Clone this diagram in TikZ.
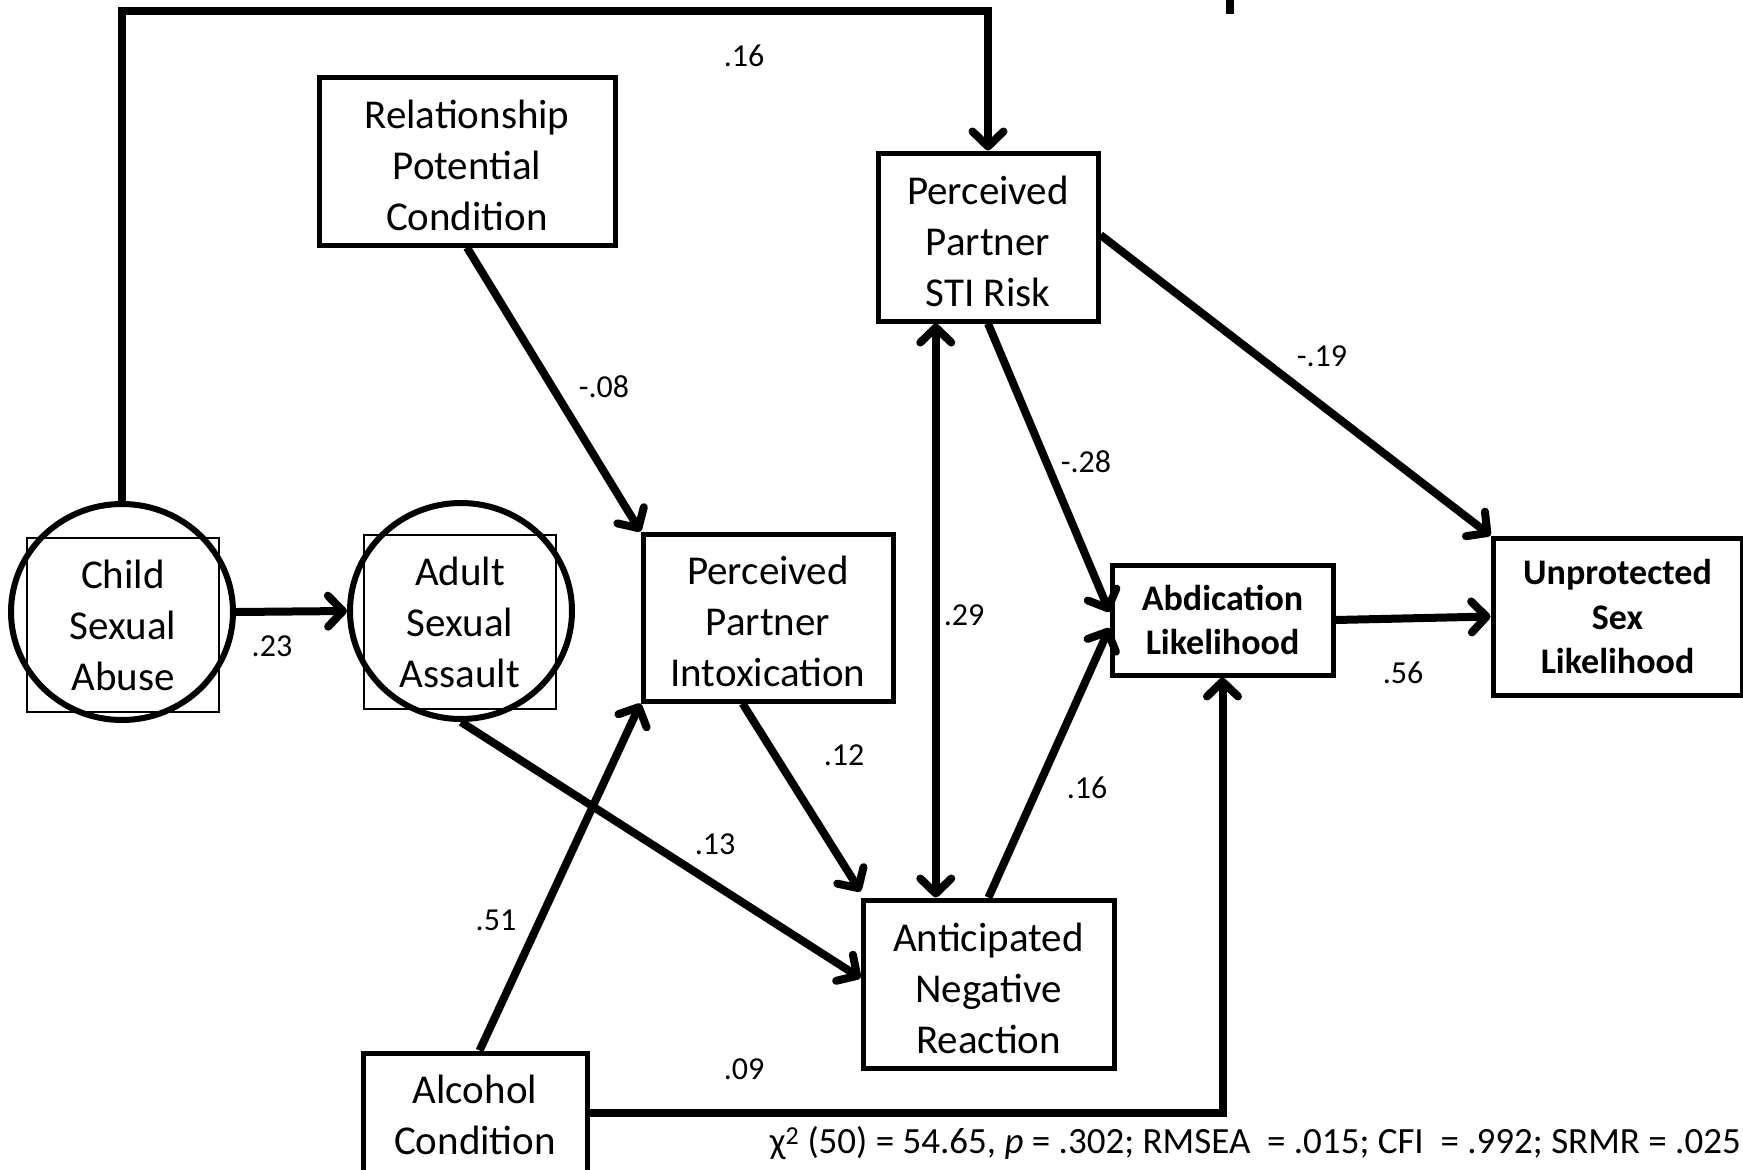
\documentclass[tikz,border=0pt]{standalone}
\usepackage{fontspec}
\setmainfont{Carlito}
\usetikzlibrary{arrows.meta,calc,shapes.geometric}
\newcommand\nodefnt{\fontsize{41}{51}\selectfont}
\newcommand\boldfnt{\fontsize{36}{44.5}\selectfont\bfseries}
\newcommand\labfnt{\fontsize{32}{38}\selectfont}
\newcommand\fitfnt{\fontsize{37}{42}\selectfont}
% taller first line, so that the text block sits a little lower in its box
\newcommand\tup{\rule{0pt}{37pt}}
\begin{document}
\begin{tikzpicture}[x=1pt,y=-1pt,
  box/.style={draw, line width=5pt, inner sep=0pt, align=center, font=\nodefnt},
  boldbox/.style={box, font=\boldfnt},
  latent/.style={ellipse, draw, line width=6pt, minimum width=222pt, minimum height=216pt, inner sep=0pt},
  indic/.style={draw, line width=2pt, inner sep=0pt, minimum width=192pt, minimum height=174pt, align=center, font=\nodefnt},
  lab/.style={inner sep=0pt, font=\labfnt},
  tipb/.tip={Straight Barb[length=15pt,width=31pt,line cap=round,line join=round]},
  conn/.style={line width=8pt},
  arr/.style={conn, -tipb},
  biarr/.style={conn, tipb-tipb}]
\useasboundingbox (0,0) rectangle (1743,1170);

% observed and latent variables
\node[box, minimum width=296pt, minimum height=168pt] (rel) at (467,161) {\tup Relationship\\Potential\\Condition};
\node[box, minimum width=220pt, minimum height=168pt] (sti) at (988,237) {\tup Perceived\\Partner\\STI Risk};
\node[latent] (csa) at (122,612) {};
\node[indic] (csasq) at (123,625) {Child\\Sexual\\Abuse};
\node[latent] (asa) at (461,611) {};
\node[indic] (asasq) at (460,622) {Adult\\Sexual\\Assault};
\node[box, minimum width=250pt, minimum height=167pt] (ppi) at (768,617.5) {\tup Perceived\\Partner\\Intoxication};
\node[boldbox, minimum width=221pt, minimum height=110pt] (abd) at (1222.5,620) {Abdication\\Likelihood};
\node[boldbox, minimum width=249pt, minimum height=157pt] (unp) at (1617.5,616.5) {Unprotected\\Sex\\Likelihood};
\node[box, minimum width=251pt, minimum height=168pt] (anr) at (988.5,984) {\tup Anticipated\\Negative\\Reaction};
\node[box, minimum width=224pt, minimum height=119pt] (alc) at (475,1112.5) {\rule{0pt}{34pt}Alcohol\\Condition};

% paths
\coordinate (topy) at (0,10.5);
\draw[arr] (csa.north) -- (csa.north |- topy) -| (sti.north);
\draw[arr] (csa.east) -- (asa.west);
\draw[arr] (rel.south) -- (ppi.north west);
\draw[arr] ($(alc.north west)!0.52!(alc.north east)$) -- (ppi.south west);
\draw[arr] (asa.south) -- ($(anr.west)+(0,-6)$);
\draw[arr] ($(ppi.south west)!0.4!(ppi.south east)$) -- ($(anr.north west)+(0,-6)$);
\draw[biarr] ($(sti.south west)!0.268!(sti.south east)$) coordinate (bi) -- (bi |- anr.north);
\draw[arr] (sti.south) -- ($(abd.west)+(0,-8)$);
\draw[arr] (anr.north) -- ($(abd.west)+(0,8)$);
\draw[arr] ($(sti.east)+(0,-2)$) -- (unp.north west);
\draw[arr] (abd.east) -- (unp.west);
\draw[arr] (alc.east) -| (abd.south);

% short mark at the top edge
\coordinate (mk1) at (1230,0);
\coordinate (mk2) at (1230,14);
\draw[conn] (mk1) -- (mk2);

% path coefficients
\node[lab] (c16a) at (744,56) {.16};
\node[lab] (c08) at (604,387) {-.08};
\node[lab] (c19) at (1322,356) {-.19};
\node[lab] (c28) at (1086,462) {-.28};
\node[lab] (c29) at (964,615) {.29};
\node[lab] (c23) at (272,646) {.23};
\node[lab] (c12) at (844,755) {.12};
\node[lab] (c16b) at (1087,788) {.16};
\node[lab] (c13) at (715,844) {.13};
\node[lab] (c51) at (496,920) {.51};
\node[lab] (c09) at (744,1069) {.09};
\node[lab] (c56) at (1403,673) {.56};

% model fit
\node[inner sep=0pt, font=\fitfnt, anchor=east] (fit) at (1741,1143) {χ\textsuperscript{2} (50) = 54.65, \textit{p} = .302; RMSEA\ \ = .015; CFI\ \ = .992; SRMR = .025};
\end{tikzpicture}
\end{document}
